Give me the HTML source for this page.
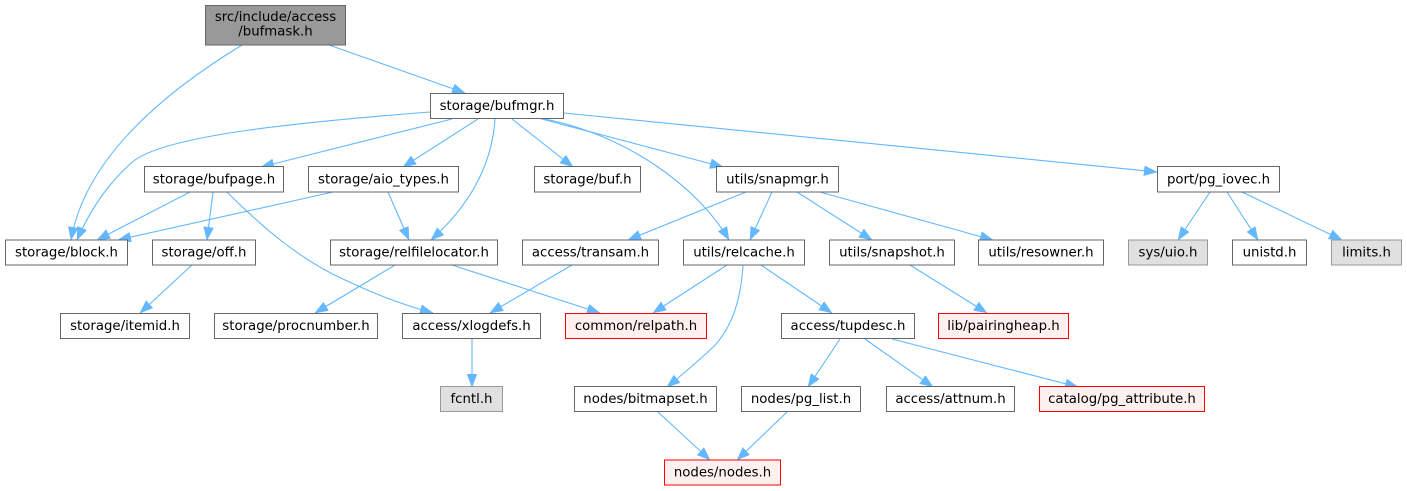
<!DOCTYPE html>
<html><head><meta charset="utf-8"><style>
html,body{margin:0;padding:0;background:#fff;}
svg{display:block;}
text{font-family:"DejaVu Sans","Liberation Sans",sans-serif;font-size:13.3px;fill:#000;text-anchor:middle;}
.n{fill:#fff;stroke:#666;stroke-width:1;}
.g{fill:#e0e0e0;stroke:#999;stroke-width:1;}
.r{fill:#fff0f0;stroke:#f00;stroke-width:1;}
.root{fill:#999;stroke:#666;stroke-width:1;}
.e{fill:none;stroke:#63b8ff;stroke-width:1.1;marker-end:url(#ah);}
</style></head><body>
<svg width="1407" height="491" viewBox="0 0 1407 491" xmlns="http://www.w3.org/2000/svg">
<defs>
<marker id="ah" markerUnits="userSpaceOnUse" markerWidth="14" markerHeight="11" refX="13" refY="5" orient="auto">
<path d="M0,0 L13,5 L0,10 z" fill="#63b8ff" stroke="#63b8ff" stroke-width="0.5"/>
</marker>
</defs>

<!-- edges -->
<path class="e" d="M242,45 C160,95 85,160 71,240"/>
<path class="e" d="M329,45 L465,93"/>
<path class="e" d="M430,112 C300,122 170,135 135,160 C110,180 90,210 77,240"/>
<path class="e" d="M452,119 L261,167"/>
<path class="e" d="M478,119 L403,167"/>
<path class="e" d="M495,119 C492,165 470,205 431,240"/>
<path class="e" d="M512,119 L573,167"/>
<path class="e" d="M540,118 C630,135 700,190 729,240"/>
<path class="e" d="M538,118 L723,167"/>
<path class="e" d="M564,113 L1157,172"/>
<path class="e" d="M190,192 L97,240"/>
<path class="e" d="M213,192 L207,240"/>
<path class="e" d="M227,192 C260,225 300,260 345,280 C375,294 400,304 433,313"/>
<path class="e" d="M333,192 L118,240"/>
<path class="e" d="M388,192 L409,240"/>
<path class="e" d="M192,265 L140,313"/>
<path class="e" d="M395,265 L315,313"/>
<path class="e" d="M452,265 L600,313"/>
<path class="e" d="M572,265 L490,313"/>
<path class="e" d="M727,265 L653,313"/>
<path class="e" d="M743,265 C741,300 732,330 710,350 C695,364 683,374 667,387"/>
<path class="e" d="M761,265 L832,313"/>
<path class="e" d="M746,192 L628,240"/>
<path class="e" d="M772,192 L750,240"/>
<path class="e" d="M797,192 L872,240"/>
<path class="e" d="M820,192 L993,240"/>
<path class="e" d="M910,265 L987,313"/>
<path class="e" d="M472,339 L472,387"/>
<path class="e" d="M840,339 L808,387"/>
<path class="e" d="M865,339 L933,387"/>
<path class="e" d="M892,339 L1078,387"/>
<path class="e" d="M658,412 L710,460"/>
<path class="e" d="M787,412 L737,460"/>
<path class="e" d="M1210,192 L1178,240"/>
<path class="e" d="M1227,192 L1258,240"/>
<path class="e" d="M1242,192 L1342,240"/>

<!-- nodes -->
<rect class="root" x="205.5" y="5.5" width="140" height="39.5"/>
<text x="275.5" y="21">src/include/access</text>
<text x="275.5" y="35.5">/bufmask.h</text>

<rect class="n" x="430.5" y="93.5" width="133" height="25"/><text x="497" y="110">storage/bufmgr.h</text>

<rect class="n" x="144.5" y="166.5" width="139" height="25.5"/><text x="214" y="183.5">storage/bufpage.h</text>
<rect class="n" x="308.5" y="166.5" width="150" height="25.5"/><text x="383.5" y="183.5">storage/aio_types.h</text>
<rect class="n" x="534.5" y="166.5" width="106" height="25.5"/><text x="587.5" y="183.5">storage/buf.h</text>
<rect class="n" x="716.5" y="166.5" width="122" height="25.5"/><text x="777.5" y="183.5">utils/snapmgr.h</text>
<rect class="n" x="1157.5" y="166.5" width="122" height="25.5"/><text x="1218.5" y="183.5">port/pg_iovec.h</text>

<rect class="n" x="5.5" y="240" width="122" height="25"/><text x="66.5" y="256.5">storage/block.h</text>
<rect class="n" x="152.5" y="240" width="103" height="25"/><text x="204" y="256.5">storage/off.h</text>
<rect class="n" x="330.5" y="240" width="167" height="25"/><text x="414" y="256.5">storage/relfilelocator.h</text>
<rect class="n" x="522.5" y="240" width="136" height="25"/><text x="590.5" y="256.5">access/transam.h</text>
<rect class="n" x="683.5" y="240" width="121" height="25"/><text x="744" y="256.5">utils/relcache.h</text>
<rect class="n" x="829.5" y="240" width="125" height="25"/><text x="892" y="256.5">utils/snapshot.h</text>
<rect class="n" x="978.5" y="240" width="125" height="25"/><text x="1041" y="256.5">utils/resowner.h</text>
<rect class="g" x="1128.5" y="240" width="79" height="25"/><text x="1168" y="256.5">sys/uio.h</text>
<rect class="n" x="1232.5" y="240" width="74" height="25"/><text x="1269.5" y="256.5">unistd.h</text>
<rect class="g" x="1331.5" y="240" width="70" height="25"/><text x="1366.5" y="256.5">limits.h</text>

<rect class="n" x="60.5" y="313.5" width="129" height="25"/><text x="125" y="330">storage/itemid.h</text>
<rect class="n" x="214.5" y="313.5" width="163" height="25"/><text x="296" y="330">storage/procnumber.h</text>
<rect class="n" x="402.5" y="313.5" width="138" height="25"/><text x="471.5" y="330">access/xlogdefs.h</text>
<rect class="r" x="565.5" y="313.5" width="141" height="25"/><text x="636" y="330">common/relpath.h</text>
<rect class="n" x="781.5" y="313.5" width="133" height="25"/><text x="848" y="330">access/tupdesc.h</text>
<rect class="r" x="938.5" y="313.5" width="130" height="25"/><text x="1003.5" y="330">lib/pairingheap.h</text>

<rect class="g" x="440.5" y="386.5" width="62" height="25"/><text x="471.5" y="403">fcntl.h</text>
<rect class="n" x="574.5" y="386.5" width="142" height="25"/><text x="645.5" y="403">nodes/bitmapset.h</text>
<rect class="n" x="741.5" y="386.5" width="119" height="25"/><text x="801" y="403">nodes/pg_list.h</text>
<rect class="n" x="886.5" y="386.5" width="128" height="25"/><text x="950.5" y="403">access/attnum.h</text>
<rect class="r" x="1039.5" y="386.5" width="165" height="25"/><text x="1122" y="403">catalog/pg_attribute.h</text>

<rect class="r" x="664.5" y="460" width="116" height="25"/><text x="722.5" y="476.5">nodes/nodes.h</text>
</svg>
</body></html>
